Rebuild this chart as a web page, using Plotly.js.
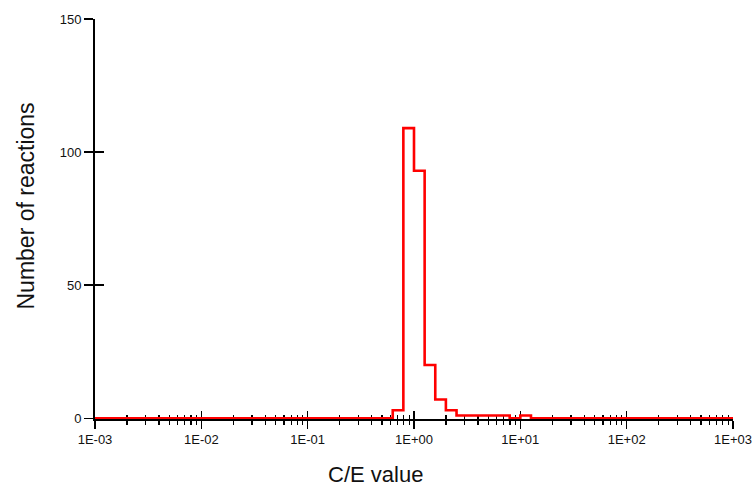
<!DOCTYPE html>
<html>
<head>
<meta charset="utf-8">
<script src="https://cdn.plot.ly/plotly-3.0.1.min.js"></script>
<style>html,body{margin:0;padding:0;background:#fff;}#chart{width:754px;height:486px;}</style>
</head>
<body>
<div id="chart"></div>
<script>
// Bin edges (C/E value) and counts per bin (bin i spans binEdges[i]..binEdges[i+1])
const binEdges = [0.001, 0.631, 0.794, 1.0, 1.259, 1.585, 1.995, 2.512, 3.162, 3.981, 5.012, 6.310, 7.943, 10.0, 12.59, 1000];
const counts   = [0, 3, 109, 93, 20, 7, 3, 1, 1, 1, 1, 1, 0, 1, 0, 0];
const xTickVals = [0.001, 0.01, 0.1, 1, 10, 100, 1000];
const xTickText = ["1E-03", "1E-02", "1E-01", "1E+00", "1E+01", "1E+02", "1E+03"];
const yTickVals = [0, 50, 100, 150];
const yTickText = ["0", "50", "100", "150"];

const FONT = "Liberation Sans, Arial, sans-serif";
const INK = "#111111";

const hist = {
  x: binEdges, y: counts, type: "scatter", mode: "lines",
  line: {shape: "hv", color: "#ff0000", width: 2.6},
  hoverinfo: "x+y", showlegend: false
};
const dummy = {x: [], y: [], xaxis: "x2", yaxis: "y2", type: "scatter", mode: "lines", showlegend: false, hoverinfo: "skip"};

const logRange = [-3, 3];
const yRange = [-0.3, 150];

const layout = {
  width: 754, height: 486,
  margin: {l: 95, r: 21, t: 19, b: 67, pad: 0},
  paper_bgcolor: "#ffffff", plot_bgcolor: "#ffffff",
  showlegend: false,
  font: {family: FONT, size: 13, color: INK},
  xaxis: {
    type: "log", range: logRange, showgrid: false, zeroline: false,
    showline: true, linecolor: "#000", linewidth: 1.5, layer: "below traces",
    tickmode: "array", tickvals: xTickVals, ticktext: xTickText,
    ticks: "outside", ticklen: 8, tickwidth: 1.3, tickcolor: "#000",
    minor: {dtick: "D1", ticks: "outside", ticklen: 4.5, tickwidth: 1.2, tickcolor: "#000", showgrid: false},
    tickfont: {family: FONT, size: 13, color: INK}, fixedrange: true
  },
  xaxis2: {
    type: "log", range: logRange, overlaying: "x", anchor: "y2", side: "bottom",
    showgrid: false, zeroline: false, showline: false, showticklabels: false, layer: "below traces",
    tickmode: "array", tickvals: xTickVals,
    ticks: "inside", ticklen: 8, tickwidth: 1.3, tickcolor: "#000",
    minor: {dtick: "D1", ticks: "inside", ticklen: 4.5, tickwidth: 1.2, tickcolor: "#000", showgrid: false},
    fixedrange: true
  },
  yaxis: {
    range: yRange, showgrid: false, zeroline: false,
    showline: true, linecolor: "#000", linewidth: 2, layer: "below traces",
    tickmode: "array", tickvals: yTickVals, ticktext: yTickText,
    ticks: "outside", ticklen: 9, tickwidth: 1.3, tickcolor: "#000",
    tickfont: {family: FONT, size: 13, color: INK}, fixedrange: true
  },
  yaxis2: {
    range: yRange, overlaying: "y", anchor: "x2", side: "left",
    showgrid: false, zeroline: false, showline: false, showticklabels: false, layer: "below traces",
    tickmode: "array", tickvals: yTickVals,
    ticks: "inside", ticklen: 9, tickwidth: 1.3, tickcolor: "#000", fixedrange: true
  },
  annotations: [
    {text: "C/E value", xref: "paper", yref: "paper", x: 0.4397, y: -0.1375,
     xanchor: "center", yanchor: "middle", showarrow: false,
     font: {family: FONT, size: 22, color: INK}},
    {text: "Number of reactions", xref: "paper", yref: "paper", x: -0.1097, y: 0.53125,
     xanchor: "center", yanchor: "middle", showarrow: false, textangle: -90,
     font: {family: FONT, size: 23, color: INK}}
  ]
};

Plotly.newPlot("chart", [dummy, hist], layout, {staticPlot: true, displayModeBar: false});
</script>
</body>
</html>
